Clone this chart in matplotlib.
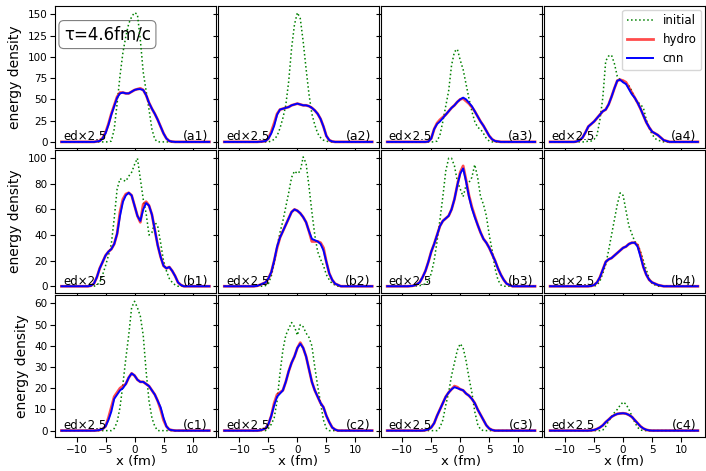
import numpy as np
import matplotlib
matplotlib.use('Agg')
import matplotlib.pyplot as plt

# sample points (fm); curves are flat zero outside these ranges
x_h = np.arange(-9, 9.01, 0.5)   # hydro / cnn
x_i = np.arange(-8, 8.01, 0.5)   # initial
x_lo, x_hi = -12.6, 12.9

panels = ['a1', 'a2', 'a3', 'a4', 'b1', 'b2', 'b3', 'b4', 'c1', 'c2', 'c3', 'c4']

# ---- row a ----
init_a1 = [0, 0, 0, 0, 0, 0, 0, 0, 1, 15,
           45, 78, 105, 124, 139, 147, 152, 150, 120, 82,
           60, 38, 15, 3, 0, 0, 0, 0, 0, 0,
           0, 0, 0]
hydro_a1 = [0, 0, 0, 0, 0, 0.5, 1.2, 4.5, 11, 21,
            33, 43, 53, 58, 58, 57, 57, 59, 61, 62,
            63, 61, 55, 46, 39, 33, 26, 18, 10, 4,
            1, 0.3, 0, 0, 0, 0, 0]
cnn_a1 = [0, 0, 0, 0, 0, 0.5, 1, 4, 10, 20,
          32, 42, 52, 57, 58, 57, 57, 59, 61, 62,
          62, 61, 55, 46, 39, 33, 26, 18, 10, 4,
          1, 0.3, 0, 0, 0, 0, 0]

init_a2 = [0, 0, 0, 0, 0, 0, 0, 1, 3, 7,
           16, 28, 43, 71, 110, 138, 152, 145, 118, 86,
           56, 33, 20, 10, 5, 2, 1, 0, 0, 0,
           0, 0, 0]
hydro_a2 = [0, 0, 0, 0, 0, 0.2, 0.5, 1, 4, 12,
            22, 33, 38, 39, 40, 41, 43, 44, 45, 44,
            43, 43, 42, 40, 37, 33, 27, 18, 7, 2,
            0.5, 0, 0, 0, 0, 0, 0]
cnn_a2 = [0, 0, 0, 0, 0, 0.2, 0.5, 1, 4, 10,
          19, 32, 38, 39, 40, 41, 43, 44, 45, 44,
          43, 43, 42, 40, 37, 33, 27, 18, 7, 2,
          0.5, 0, 0, 0, 0, 0, 0]

init_a3 = [0, 0, 0, 0, 0, 0, 0, 0, 1, 8,
           24, 42, 60, 90, 106, 109, 96, 85, 68, 51,
           36, 24, 17, 15, 10, 4, 1, 0, 0, 0,
           0, 0, 0]
hydro_a3 = [0, 0, 0, 0, 0, 0, 0, 0.5, 4, 15,
            22, 26, 29, 32, 36, 40, 43, 47, 50, 51,
            48, 45, 41, 36, 30, 24, 19, 13, 7, 3,
            1, 0.5, 0, 0, 0, 0, 0]
cnn_a3 = [0, 0, 0, 0, 0, 0, 0, 0.5, 4, 15,
          21, 24, 28, 32, 36, 40, 43, 47, 50, 52,
          50, 46, 42, 36, 30, 24, 19, 13, 7, 3,
          1, 0.5, 0, 0, 0, 0, 0]

init_a4 = [0, 0, 0, 0, 1, 1, 3, 8, 26, 52,
           95, 101, 102, 92, 77, 73, 71, 68, 66, 60,
           50, 47, 44, 40, 26, 16, 9, 4, 2, 1,
           0, 0, 0]
hydro_a4 = [0, 0, 0.5, 2, 5, 11, 18, 21, 24, 28,
            32, 36, 38, 44, 53, 63, 72, 73, 72, 70,
            64, 58, 52, 46, 39, 31, 23, 17, 12, 10,
            8, 5, 2, 1, 0, 0, 0]
cnn_a4 = [0, 0, 0.5, 2, 5, 11, 18, 21, 24, 28,
          32, 36, 38, 44, 53, 63, 72, 73, 70, 68,
          62, 56, 52, 46, 39, 31, 23, 17, 12, 10,
          8, 5, 2, 1, 0, 0, 0]

# ---- row b ----
init_b1 = [0, 0, 0, 1, 3, 9, 16, 24, 33, 53,
           76, 84, 83, 82, 86, 89, 95, 100, 84, 68,
           57, 40, 42, 50, 47, 34, 20, 12, 6, 3,
           1, 0, 0]
hydro_b1 = [0, 0, 0, 0.5, 2, 7, 14, 19, 24, 27,
            29, 33, 41, 58, 68, 72, 73, 71, 63, 55,
            50, 64, 66, 63, 56, 44, 32, 23, 16, 14,
            15, 12, 8, 3, 1, 0, 0]
cnn_b1 = [0, 0, 0, 0.5, 2, 7, 14, 19, 24, 27,
          29, 33, 41, 55, 66, 71, 73, 71, 63, 55,
          51, 60, 65, 63, 56, 44, 32, 23, 16, 14,
          15, 12, 8, 3, 1, 0, 0]

init_b2 = [0, 0, 0, 0, 0, 0.5, 2, 8, 18, 31,
           42, 51, 62, 73, 85, 90, 88, 90, 101, 96,
           78, 58, 40, 27, 21, 16, 9, 5, 2, 1,
           0, 0, 0]
hydro_b2 = [0, 0, 0, 0, 0.3, 1, 2, 3, 6, 11,
            20, 30, 38, 43, 48, 53, 58, 60, 59, 57,
            54, 50, 43, 35, 35, 35, 34, 30, 19, 10,
            5, 2, 1, 0, 0, 0, 0]
cnn_b2 = [0, 0, 0, 0, 0.3, 1, 2, 3, 6, 11,
          20, 31, 38, 43, 48, 53, 58, 60, 59, 57,
          54, 50, 43, 37, 36, 35, 33, 28, 19, 10,
          5, 2, 1, 0, 0, 0, 0]

init_b3 = [0, 0.3, 0.5, 1, 2, 4, 10, 20, 35, 52,
           70, 90, 100, 100, 94, 82, 76, 70, 79, 81,
           85, 95, 85, 70, 64, 55, 40, 28, 14, 5,
           1, 0, 0]
hydro_b3 = [0, 0.2, 0.5, 1.5, 3, 7, 12, 19, 27, 33,
            40, 47, 51, 53, 55, 60, 68, 79, 89, 94,
            83, 71, 62, 55, 48, 42, 37, 34, 30, 25,
            20, 14, 9, 5, 2, 1, 0]
cnn_b3 = [0, 0.2, 0.5, 1.5, 3, 7, 12, 19, 27, 33,
          40, 47, 51, 53, 55, 60, 68, 79, 88, 92,
          82, 70, 61, 54, 48, 42, 37, 34, 30, 25,
          20, 14, 9, 5, 2, 1, 0]

init_b4 = [0, 0, 0, 0, 0, 0, 0, 1, 4, 10,
           17, 28, 40, 52, 64, 73, 71, 59, 47, 41,
           35, 33, 27, 20, 13, 6, 2, 1, 0, 0,
           0, 0, 0]
hydro_b4 = [0, 0, 0, 0, 0, 0, 0, 0.3, 1, 3,
            7, 13, 19, 21, 22, 24, 26, 28, 30, 31,
            33, 34, 34, 32, 25, 15, 9, 5, 3, 2,
            1, 0.5, 0, 0, 0, 0, 0]
cnn_b4 = [0, 0, 0, 0, 0, 0, 0, 0.3, 1, 3,
          7, 13, 19, 21, 22, 24, 26, 28, 30, 31,
          33, 34, 34, 31, 23, 15, 9, 5, 3, 2,
          1, 0.5, 0, 0, 0, 0, 0]

# ---- row c ----
init_c1 = [0, 0, 0, 0, 0, 0, 0, 0, 0, 1,
           4, 11, 22, 34, 45, 58, 61, 58, 54, 45,
           28, 14, 6, 2, 0, 0, 0, 0, 0, 0,
           0, 0, 0]
hydro_c1 = [0, 0, 0, 0, 0, 0.1, 0.3, 0.8, 2, 6,
            11, 16, 18, 20, 21, 22, 25, 27, 26, 24,
            23, 23, 22, 21, 19, 17, 14, 10, 5, 2,
            0.5, 0.2, 0, 0, 0, 0, 0]
cnn_c1 = [0, 0, 0, 0, 0, 0.1, 0.3, 0.8, 2, 5,
          9, 15, 17, 19, 20, 22, 25, 27, 26, 24,
          23, 23, 22, 21, 19, 17, 14, 11, 6, 2,
          0.5, 0.2, 0, 0, 0, 0, 0]

init_c2 = [0, 0, 0, 0, 0, 0, 1, 3, 6, 14,
           27, 38, 45, 48, 51, 49, 45, 50, 49, 46,
           44, 40, 30, 21, 13, 5, 1, 0, 0, 0,
           0, 0, 0]
hydro_c2 = [0, 0, 0, 0, 0, 0.1, 0.5, 1, 3, 7,
            13, 17, 18, 19, 23, 28, 32, 35, 39, 41.5,
            39, 35, 29, 23, 19, 16, 13, 11, 7, 4,
            1.5, 0.5, 0, 0, 0, 0, 0]
cnn_c2 = [0, 0, 0, 0, 0, 0.1, 0.5, 1, 3, 7,
          12, 16, 17.5, 19, 23, 28, 32, 35, 39, 41,
          39, 35, 29, 23, 19, 16, 13, 11, 7, 4,
          1.5, 0.5, 0, 0, 0, 0, 0]

init_c3 = [0, 0, 0, 0, 0, 0, 0, 0, 0, 1.5,
           5, 12, 18, 26, 32, 38, 41, 39, 33, 25,
           18, 9, 3, 0.5, 0, 0, 0, 0, 0, 0,
           0, 0, 0]
hydro_c3 = [0, 0, 0, 0, 0, 0, 0.2, 0.6, 1.5, 3.5,
            7, 10, 13, 16, 18, 19.5, 21, 20.5, 19.5, 19,
            17.5, 16.5, 15, 13, 10, 7.5, 5, 2.5, 1, 0.3,
            0, 0, 0, 0, 0, 0, 0]
cnn_c3 = [0, 0, 0, 0, 0, 0, 0.2, 0.6, 1.5, 3.5,
          7, 10, 13, 16, 18, 19.5, 20.5, 20, 19.5, 19,
          17.5, 16.5, 15, 13, 10, 7.5, 5, 2.5, 1, 0.3,
          0, 0, 0, 0, 0, 0, 0]

init_c4 = [0, 0, 0, 0, 0, 0, 0, 0, 0, 0.3,
           2, 4.5, 6.5, 8.5, 10, 12, 13.5, 12.5, 10, 7,
           4, 1.5, 0.3, 0, 0, 0, 0, 0, 0, 0,
           0, 0, 0]
hydro_c4 = [0, 0, 0, 0, 0, 0, 0, 0.1, 0.3, 0.8,
            1.5, 2.5, 4, 5.2, 6.5, 7.3, 7.9, 8.1, 8.2, 8,
            7.4, 6.5, 5, 3.5, 2, 1, 0.4, 0.1, 0, 0,
            0, 0, 0, 0, 0, 0, 0]
cnn_c4 = [0, 0, 0, 0, 0, 0, 0, 0.1, 0.3, 0.8,
          1.5, 2.5, 4, 5.2, 6.5, 7.3, 7.9, 8.1, 8.2, 8,
          7.4, 6.5, 5, 3.5, 2, 1, 0.4, 0.1, 0, 0,
          0, 0, 0, 0, 0, 0, 0]

inits = [init_a1, init_a2, init_a3, init_a4, init_b1, init_b2, init_b3, init_b4,
         init_c1, init_c2, init_c3, init_c4]
hydros = [hydro_a1, hydro_a2, hydro_a3, hydro_a4, hydro_b1, hydro_b2, hydro_b3, hydro_b4,
          hydro_c1, hydro_c2, hydro_c3, hydro_c4]
cnns = [cnn_a1, cnn_a2, cnn_a3, cnn_a4, cnn_b1, cnn_b2, cnn_b3, cnn_b4,
        cnn_c1, cnn_c2, cnn_c3, cnn_c4]

row_yticks = [[0, 25, 50, 75, 100, 125, 150], [0, 20, 40, 60, 80, 100], [0, 10, 20, 30, 40, 50, 60]]

xi = np.r_[x_lo, x_i, x_hi]
xh = np.r_[x_lo, x_h, x_hi]

fig, axes = plt.subplots(3, 4, figsize=(7.06, 4.71), dpi=100, sharex=True, sharey='row')
fig.subplots_adjust(left=0.078, right=0.998, top=0.987, bottom=0.072, wspace=0.012, hspace=0.015)

for k, ax in enumerate(axes.flat):
    ax.plot(xi, np.r_[0, inits[k], 0], ':', color='green', lw=1.1, label='initial')
    ax.plot(xh, np.r_[0, hydros[k], 0], '-', color='red', lw=2.0, alpha=0.7, label='hydro')
    ax.plot(xh, np.r_[0, cnns[k], 0], '-', color='blue', lw=1.4, label='cnn')
    ax.text(0.05, 0.035, 'ed×2.5', transform=ax.transAxes, fontsize=8.5, ha='left', va='bottom')
    ax.text(0.95, 0.035, '(%s)' % panels[k], transform=ax.transAxes, fontsize=9, ha='right', va='bottom')
    ax.tick_params(labelsize=7.5, pad=2)
    ax.set_xticks([-10, -5, 0, 5, 10])
    ax.set_xlim(-13.7, 14.05)

for r in range(3):
    axes[r, 0].set_yticks(row_yticks[r])
    axes[r, 0].set_ylabel('energy density', fontsize=10)
for c in range(4):
    axes[2, c].set_xlabel('x (fm)', fontsize=9.5, labelpad=0)

axes[0, 0].text(0.055, 0.80, 'τ=4.6fm/c', transform=axes[0, 0].transAxes, fontsize=12,
                ha='left', va='center', zorder=0,
                bbox=dict(boxstyle='round,pad=0.3', fc='white', ec='gray', lw=0.8))
axes[0, 3].legend(loc='upper right', fontsize=8.5, handlelength=2.2, borderaxespad=0.3)

plt.savefig('out.png', dpi=100)
